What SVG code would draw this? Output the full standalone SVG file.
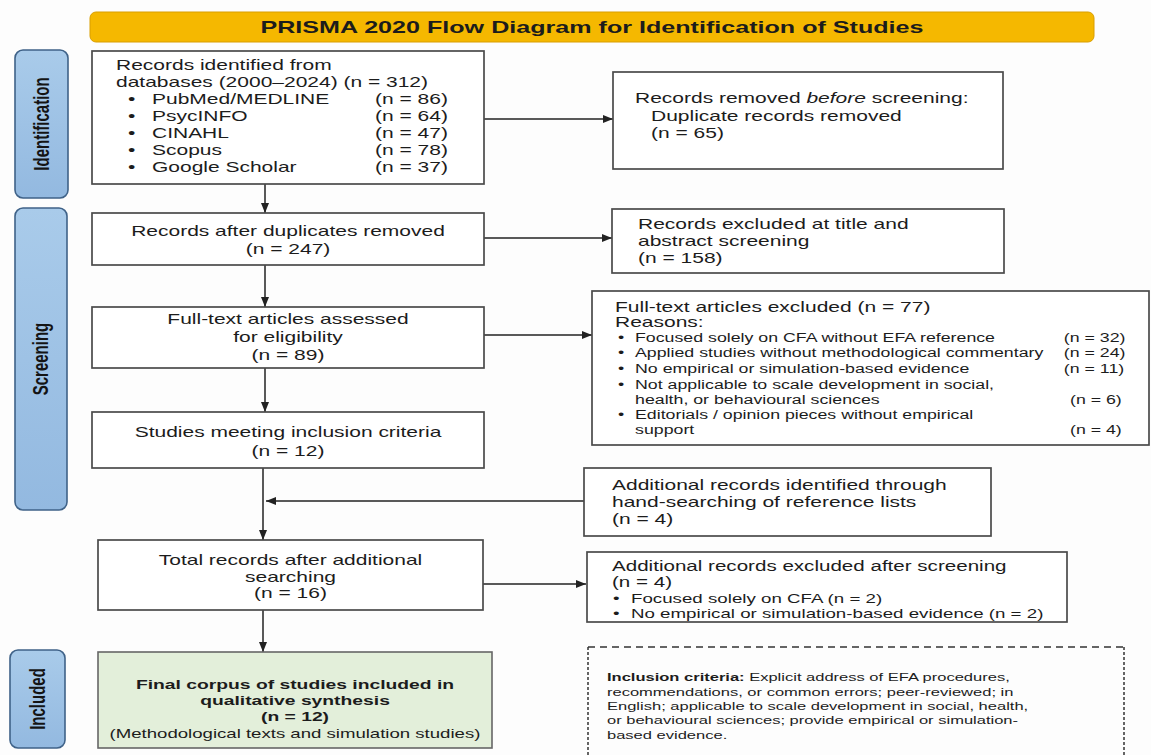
<svg xmlns="http://www.w3.org/2000/svg" width="1151" height="755" viewBox="0 0 1151 755">
<defs>
<style>
.t{font-family:"Liberation Sans",Arial,Helvetica,sans-serif;fill:#1c1c1c}
.f14{font-size:14px}
.f13{font-size:13px}
.f125{font-size:12.5px}
.f12{font-size:11.8px}
.b{font-weight:bold}
.box{fill:#fff;stroke:#4a4a4a;stroke-width:1.7}
.lbl{fill:url(#blue);stroke:#3f6288;stroke-width:1.6}
.lt{font-family:"Liberation Sans",Arial,sans-serif;font-weight:bold;font-size:15px;fill:#141414}
.c{fill:none;stroke:#222;stroke-width:1.5}
.m{text-anchor:middle}
</style>
<linearGradient id="blue" x1="0" y1="0" x2="0" y2="1">
<stop offset="0" stop-color="#a9cbea"/>
<stop offset="1" stop-color="#93b9e0"/>
</linearGradient>
<marker id="ah" markerWidth="10" markerHeight="8" refX="10" refY="4" orient="auto" markerUnits="userSpaceOnUse">
<path d="M0,0 L10,4 L0,8 Z" fill="#222"/>
</marker>
</defs>
<rect width="1151" height="755" fill="#fdfdfd"/>

<g id="title">
<rect x="90" y="12" width="1004" height="30" rx="6" fill="#f5b800" stroke="#d99e00" stroke-width="1"/>
<g transform="translate(592,33) scale(1.57,1)"><text class="t b m" x="0" y="0" style="font-size:16px">PRISMA 2020 Flow Diagram for Identification of Studies</text></g>
</g>

<g id="label-identification">
<rect class="lbl" x="15" y="50" width="53" height="148" rx="8"/>
<text class="lt m" transform="translate(41.5,124) scale(1.45,1) rotate(-90)" dy="5">Identification</text>
</g>
<g id="label-screening">
<rect class="lbl" x="15" y="208" width="52" height="302" rx="8"/>
<text class="lt m" transform="translate(41,359) scale(1.45,1) rotate(-90)" dy="5">Screening</text>
</g>
<g id="label-included">
<rect class="lbl" x="10" y="650" width="55" height="98" rx="8"/>
<text class="lt m" transform="translate(37.5,699) scale(1.45,1) rotate(-90)" dy="5">Included</text>
</g>

<g id="connectors">
<line class="c" x1="265" y1="184" x2="265" y2="213" marker-end="url(#ah)"/>
<line class="c" x1="484" y1="119" x2="613" y2="119" marker-end="url(#ah)"/>
<line class="c" x1="484" y1="238" x2="612" y2="238" marker-end="url(#ah)"/>
<line class="c" x1="265" y1="265" x2="265" y2="307" marker-end="url(#ah)"/>
<line class="c" x1="484" y1="335" x2="592" y2="335" marker-end="url(#ah)"/>
<line class="c" x1="265" y1="368" x2="265" y2="412" marker-end="url(#ah)"/>
<line class="c" x1="263" y1="468" x2="263" y2="540" marker-end="url(#ah)"/>
<line class="c" x1="584" y1="501" x2="266" y2="501" marker-end="url(#ah)"/>
<line class="c" x1="483" y1="584" x2="586" y2="584" marker-end="url(#ah)"/>
<line class="c" x1="263" y1="610" x2="263" y2="652" marker-end="url(#ah)"/>
</g>

<g id="records-identified">
<rect class="box" x="92" y="51" width="392" height="133"/>
<g transform="translate(116,0) scale(1.5,1)" class="t f14">
<text x="0" y="70">Records identified from</text>
<text x="0" y="87">databases (2000–2024) (n = 312)</text>
<text x="8" y="104">•</text><text x="24" y="104">PubMed/MEDLINE</text><text x="172.7" y="104">(n = 86)</text>
<text x="8" y="121">•</text><text x="24" y="121">PsycINFO</text><text x="172.7" y="121">(n = 64)</text>
<text x="8" y="138">•</text><text x="24" y="138">CINAHL</text><text x="172.7" y="138">(n = 47)</text>
<text x="8" y="155">•</text><text x="24" y="155">Scopus</text><text x="172.7" y="155">(n = 78)</text>
<text x="8" y="172">•</text><text x="24" y="172">Google Scholar</text><text x="172.7" y="172">(n = 37)</text>
</g>
</g>

<g id="records-removed">
<rect class="box" x="613" y="72" width="390" height="97"/>
<g transform="translate(635,0) scale(1.5,1)" class="t f14">
<text x="0" y="103">Records removed <tspan font-style="italic">before</tspan> screening:</text>
<text x="10.7" y="121">Duplicate records removed</text>
<text x="10.7" y="138">(n = 65)</text>
</g>
</g>

<g id="records-after-duplicates">
<rect class="box" x="92" y="213" width="392" height="52"/>
<g transform="translate(288,0) scale(1.5,1)" class="t f14 m">
<text x="0" y="236">Records after duplicates removed</text>
<text x="0" y="254">(n = 247)</text>
</g>
</g>

<g id="excluded-title-abstract">
<rect class="box" x="612" y="209" width="392" height="64"/>
<g transform="translate(638,0) scale(1.5,1)" class="t f14">
<text x="0" y="229">Records excluded at title and</text>
<text x="0" y="246">abstract screening</text>
<text x="0" y="263">(n = 158)</text>
</g>
</g>

<g id="fulltext-assessed">
<rect class="box" x="92" y="307" width="392" height="61"/>
<g transform="translate(288,0) scale(1.5,1)" class="t f14 m">
<text x="0" y="324">Full-text articles assessed</text>
<text x="0" y="342">for eligibility</text>
<text x="0" y="360">(n = 89)</text>
</g>
</g>

<g id="fulltext-excluded">
<rect class="box" x="592" y="291" width="557" height="154"/>
<g transform="translate(615,0) scale(1.5,1)" class="t f14">
<text x="0" y="312">Full-text articles excluded (n = 77)</text>
<text x="0" y="327">Reasons:</text>
</g>
<g transform="translate(618,0) scale(1.42,1)" class="t f125">
<text x="0" y="342">•</text><text x="12" y="342">Focused solely on CFA without EFA reference</text><text x="314" y="342">(n = 32)</text>
<text x="0" y="357">•</text><text x="12" y="357">Applied studies without methodological commentary</text><text x="314" y="357">(n = 24)</text>
<text x="0" y="373">•</text><text x="12" y="373">No empirical or simulation-based evidence</text><text x="314" y="373">(n = 11)</text>
<text x="0" y="389">•</text><text x="12" y="389">Not applicable to scale development in social,</text>
<text x="12" y="404">health, or behavioural sciences</text><text x="318.3" y="404">(n = 6)</text>
<text x="0" y="419">•</text><text x="12" y="419">Editorials / opinion pieces without empirical</text>
<text x="12" y="434">support</text><text x="318.3" y="434">(n = 4)</text>
</g>
</g>

<g id="studies-meeting">
<rect class="box" x="92" y="412" width="392" height="56"/>
<g transform="translate(288,0) scale(1.5,1)" class="t f14 m">
<text x="0" y="437">Studies meeting inclusion criteria</text>
<text x="0" y="456">(n = 12)</text>
</g>
</g>

<g id="additional-identified">
<rect class="box" x="584" y="468" width="407" height="68"/>
<g transform="translate(612,0) scale(1.5,1)" class="t f14">
<text x="0" y="490">Additional records identified through</text>
<text x="0" y="507">hand-searching of reference lists</text>
<text x="0" y="524">(n = 4)</text>
</g>
</g>

<g id="total-records">
<rect class="box" x="98" y="540" width="385" height="70"/>
<g transform="translate(290.5,0) scale(1.5,1)" class="t f14 m">
<text x="0" y="565">Total records after additional</text>
<text x="0" y="582">searching</text>
<text x="0" y="598">(n = 16)</text>
</g>
</g>

<g id="additional-excluded">
<rect class="box" x="587" y="552" width="480" height="70"/>
<g transform="translate(612,0) scale(1.47,1)" class="t f14">
<text x="0" y="571">Additional records excluded after screening</text>
<text x="0" y="587">(n = 4)</text>
</g>
<g transform="translate(613,0) scale(1.44,1)" class="t f13">
<text x="0" y="603">•</text><text x="12.5" y="603">Focused solely on CFA (n = 2)</text>
<text x="0" y="618">•</text><text x="12.5" y="618">No empirical or simulation-based evidence (n = 2)</text>
</g>
</g>

<g id="final-corpus">
<rect x="98" y="652" width="394" height="96" fill="#e3efda" stroke="#666" stroke-width="1.6"/>
<g transform="translate(295,0) scale(1.43,1)" class="t m">
<text class="b" x="0" y="689" style="font-size:13.5px">Final corpus of studies included in</text>
<text class="b" x="0" y="705" style="font-size:13.5px">qualitative synthesis</text>
<text class="b" x="0" y="721" style="font-size:13.5px">(n = 12)</text>
<text class="f13" x="0" y="738">(Methodological texts and simulation studies)</text>
</g>
</g>

<g id="inclusion-criteria">
<rect x="588" y="647" width="536" height="120" fill="#fdfdfd" stroke="none"/>
<line x1="588" y1="647" x2="1124" y2="647" stroke="#333" stroke-width="1.5" stroke-dasharray="7,5"/>
<line x1="588" y1="647" x2="588" y2="755" stroke="#333" stroke-width="1.5" stroke-dasharray="3,2"/>
<line x1="1124" y1="647" x2="1124" y2="755" stroke="#333" stroke-width="1.5" stroke-dasharray="3,2"/>
<g transform="translate(607,0) scale(1.4,1)" class="t f12">
<text x="0" y="681"><tspan class="b">Inclusion criteria:</tspan> Explicit address of EFA procedures,</text>
<text x="0" y="696">recommendations, or common errors; peer-reviewed; in</text>
<text x="0" y="710">English; applicable to scale development in social, health,</text>
<text x="0" y="724">or behavioural sciences; provide empirical or simulation-</text>
<text x="0" y="739">based evidence.</text>
</g>
</g>
</svg>
